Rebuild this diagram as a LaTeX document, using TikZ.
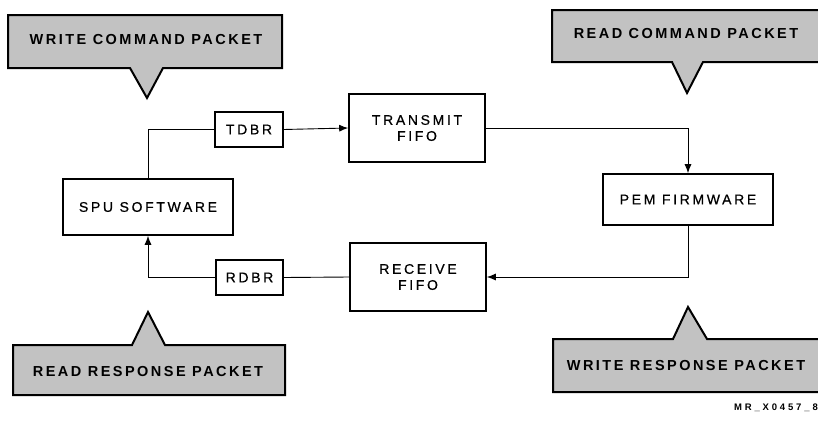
\documentclass[tikz,border=0pt]{standalone}
\usepackage{fontspec}
\setmainfont{Liberation Sans}
\newfontfamily\boxfont[LetterSpace=19,FakeBold=0.6]{Liberation Sans}
\newfontfamily\callfont[LetterSpace=17]{Liberation Sans}
\newfontfamily\idfont[LetterSpace=30]{Liberation Sans}
\usetikzlibrary{arrows.meta}
\begin{document}
\begin{tikzpicture}[x=1pt,y=-1pt,
  blk/.style={draw,line width=1.6pt,inner sep=0pt,align=center,font=\boxfont\fontsize{14}{16}\selectfont},
  conn/.style={line width=0.9pt},
  arr/.style={conn,-{Latex[length=9pt,width=7pt]}},
  callout/.style={draw,line width=2pt,fill=black!24,line join=miter},
  ctext/.style={font=\callfont\bfseries\fontsize{14.5}{16}\selectfont,inner sep=0pt}]
\useasboundingbox (0,0) rectangle (818,423);
\begin{scope}
\clip (0,0) rectangle (818,423);
% callouts
\draw[callout] (8,15) -- (282,15) -- (282,68) -- (163,68) -- (147,98) -- (130,68) -- (8,68) -- cycle;
\draw[callout] (552,10) -- (824,10) -- (824,62) -- (703,62) -- (687,93) -- (672,62) -- (552,62) -- cycle;
\draw[callout] (13,395) -- (285,395) -- (285,345) -- (165,345) -- (148,312) -- (132,345) -- (13,345) -- cycle;
\draw[callout] (553,392) -- (824,392) -- (824,339) -- (707,339) -- (688,307) -- (673,339) -- (553,339) -- cycle;
\end{scope}
\node[ctext] (wcp) at (146,40) {WRITE COMMAND PACKET};
\node[ctext] (rcp) at (686,34) {READ COMMAND PACKET};
\node[ctext] (rrp) at (148,372) {READ RESPONSE PACKET};
\node[ctext] (wrp) at (686,366) {WRITE RESPONSE PACKET};
% blocks
\node[blk,minimum width=68pt,minimum height=35pt] (tdbr) at (249,129.5) {TDBR};
\node[blk,minimum width=67pt,minimum height=35pt] (rdbr) at (249.5,277.5) {RDBR};
\node[blk,minimum width=170pt,minimum height=56pt] (spu) at (148,207) {SPU SOFTWARE};
\node[blk,minimum width=136pt,minimum height=68pt] (tx) at (417,128) {TRANSMIT\\FIFO};
\node[blk,minimum width=136pt,minimum height=68pt] (rx) at (418,277) {RECEIVE\\FIFO};
\node[blk,minimum width=170pt,minimum height=51pt] (pem) at (688,199.5) {PEM FIRMWARE};
% connectors
\draw[conn] (tdbr.west) -| (spu.north);
\draw[arr] (tdbr.east) -- (tx.west);
\draw[arr] (tx.east) -| (pem.north);
\draw[arr] (pem.south) |- (rx.east);
\draw[conn] (rx.west) -- (rdbr.east);
\draw[arr] (rdbr.west) -| (spu.south);
% figure id
\node[font=\idfont\bfseries\fontsize{9.5}{11}\selectfont,anchor=east,inner sep=0pt] (id) at (818,408) {MR\_X0457\_8};
\end{tikzpicture}
\end{document}
